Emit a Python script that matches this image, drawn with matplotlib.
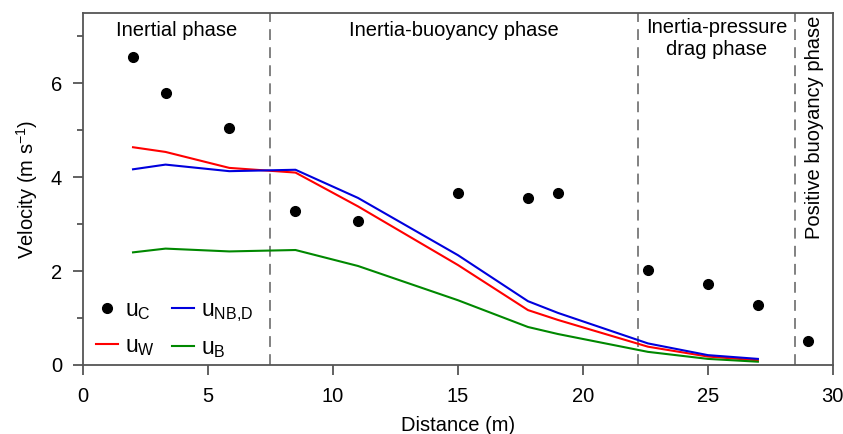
import matplotlib.pyplot as plt
from matplotlib.ticker import MultipleLocator

plt.rcParams['font.family'] = ['Liberation Sans', 'DejaVu Sans']
plt.rcParams['mathtext.fontset'] = 'custom'
plt.rcParams['mathtext.rm'] = 'Liberation Sans'

# measured velocity (dots)
dist_c = [2.0, 3.3, 5.85, 8.5, 11.0, 15.0, 17.8, 19.0, 22.6, 25.0, 27.0, 29.0]
u_c = [6.56, 5.79, 5.05, 3.28, 3.06, 3.67, 3.56, 3.66, 2.03, 1.73, 1.28, 0.52]

# model curves
dist = [2.0, 3.3, 5.85, 8.5, 11.0, 15.0, 17.8, 19.0, 22.6, 25.0, 27.0]
u_w = [4.64, 4.54, 4.20, 4.10, 3.38, 2.13, 1.17, 0.96, 0.39, 0.18, 0.10]
u_nbd = [4.17, 4.27, 4.13, 4.16, 3.56, 2.34, 1.36, 1.11, 0.46, 0.21, 0.13]
u_b = [2.40, 2.48, 2.42, 2.45, 2.11, 1.38, 0.81, 0.66, 0.28, 0.13, 0.07]

# phase boundaries
bounds = [7.5, 22.2, 28.5]

gray = '#555555'
fs = 14.5

fig = plt.figure(figsize=(8.43, 4.34), dpi=100)
ax = fig.add_axes([0.0985, 0.159, 0.8895, 0.811])

for b in bounds:
    ax.axvline(b, color='#777777', linestyle=(0, (6, 4)), linewidth=1.3, zorder=1)

h_c, = ax.plot(dist_c, u_c, 'o', color='black', markersize=7, label=r'$\mathregular{u_C}$')
h_w, = ax.plot(dist, u_w, color='#ff0000', linewidth=1.5, label=r'$\mathregular{u_W}$')
h_nbd, = ax.plot(dist, u_nbd, color='#0000dd', linewidth=1.5,
                 label=r'$\mathregular{u_{NB{,}D}}$')
h_b, = ax.plot(dist, u_b, color='#008800', linewidth=1.5, label=r'$\mathregular{u_B}$')

ax.set_xlim(0, 30)
ax.set_ylim(0, 7.5)
ax.xaxis.set_major_locator(MultipleLocator(5))
ax.yaxis.set_major_locator(MultipleLocator(2))
ax.yaxis.set_minor_locator(MultipleLocator(1))

for s in ax.spines.values():
    s.set_color(gray)
    s.set_linewidth(1.3)
ax.tick_params(which='major', direction='out', length=7, width=1.3, color=gray,
               labelsize=fs)
ax.tick_params(axis='x', which='major', pad=9)
ax.tick_params(axis='y', which='major', pad=8)
ax.tick_params(which='minor', direction='out', length=4, width=1.3, color=gray)

ax.set_xlabel('Distance (m)', fontsize=fs, labelpad=7)
ax.set_ylabel(r'Velocity (m s$^{-1}$)', fontsize=fs, labelpad=8)

ax.text(3.75, 7.0, 'Inertial phase', ha='center', va='baseline', fontsize=fs)
ax.text(14.85, 7.0, 'Inertia-buoyancy phase', ha='center', va='baseline', fontsize=fs)
ax.text(25.35, 7.08, 'Inertia-pressure', ha='center', va='baseline', fontsize=fs)
ax.text(25.35, 6.6, 'drag phase', ha='center', va='baseline', fontsize=fs)
ax.text(29.25, 7.45, 'Positive buoyancy phase', ha='center', va='top', rotation=90,
        fontsize=fs)

ax.legend(handles=[h_c, h_w, h_nbd, h_b], ncol=2, loc='lower left',
          bbox_to_anchor=(0.017, 0.014), frameon=False, fontsize=16.5,
          borderpad=0, borderaxespad=0,
          handlelength=0.96, handletextpad=0.3, columnspacing=0.75, labelspacing=0.52)

fig.savefig('out.png', dpi=100)
